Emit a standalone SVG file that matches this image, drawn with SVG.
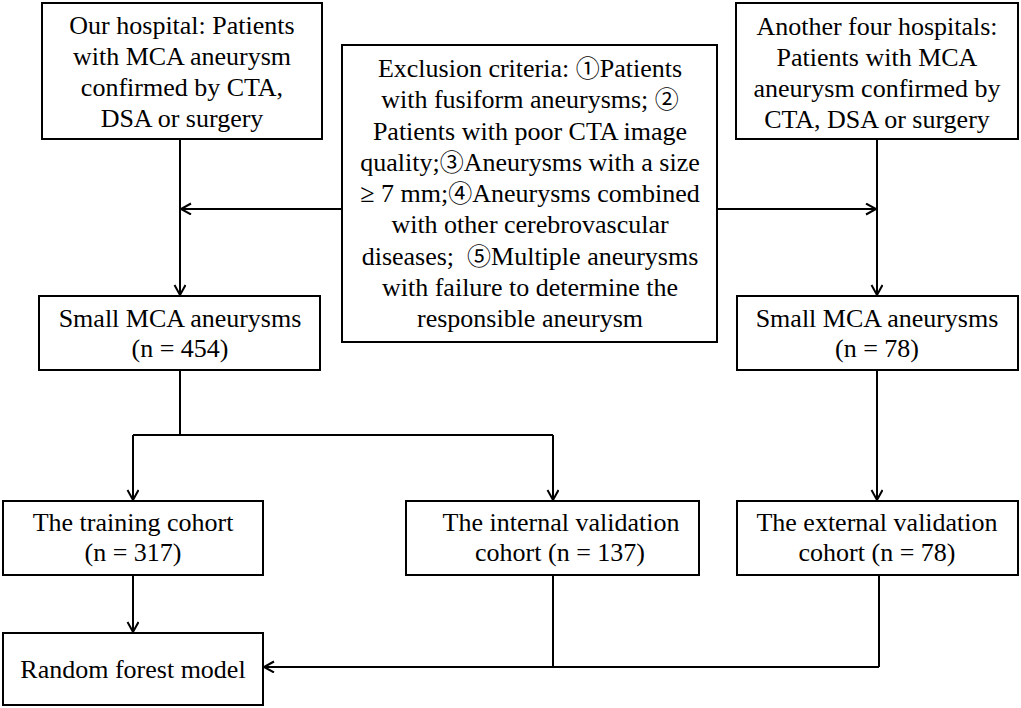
<svg xmlns="http://www.w3.org/2000/svg" width="1021" height="708" viewBox="0 0 1021 708">
<style>
.box{fill:#fff;stroke:#000;stroke-width:2}
.t{font-family:'Liberation Serif',serif;font-size:26px;fill:#000;text-anchor:middle}
.n{font-family:'Noto Sans CJK SC',sans-serif;font-size:24px}
.c{fill:none;stroke:#000;stroke-width:2}
</style>
<defs>
<marker id="arr" markerUnits="userSpaceOnUse" markerWidth="14" markerHeight="14" refX="11" refY="6" orient="auto" viewBox="0 0 14 14">
<path d="M1,0.5 L11,6 L1,11.5" fill="none" stroke="#000" stroke-width="2"/>
</marker>
</defs>
<rect width="1021" height="708" fill="#fff"/>
<g id="connectors">
<path class="c" d="M180,139 V295" marker-end="url(#arr)"/>
<path class="c" d="M342,209 H181" marker-end="url(#arr)"/>
<path class="c" d="M717,209 H876" marker-end="url(#arr)"/>
<path class="c" d="M877,139 V295" marker-end="url(#arr)"/>
<path class="c" d="M180,370 V435"/>
<path class="c" d="M133,435 H553"/>
<path class="c" d="M133,435 V500" marker-end="url(#arr)"/>
<path class="c" d="M553,435 V500" marker-end="url(#arr)"/>
<path class="c" d="M877,370 V500" marker-end="url(#arr)"/>
<path class="c" d="M133,575 V632" marker-end="url(#arr)"/>
<path class="c" d="M553,575 V667"/>
<path class="c" d="M879,575 V667"/>
<path class="c" d="M879,667 H264" marker-end="url(#arr)"/>
</g>
<g id="our-hospital">
<rect class="box" x="42" y="3" width="280" height="136"/>
<text class="t" x="182" y="34">Our hospital: Patients</text>
<text class="t" x="182" y="65">with MCA aneurysm</text>
<text class="t" x="182" y="96">confirmed by CTA,</text>
<text class="t" x="182" y="127">DSA or surgery</text>
</g>
<g id="exclusion">
<rect class="box" x="342" y="45" width="375" height="297"/>
<text class="t" x="530" y="77">Exclusion criteria: <tspan class="n">①</tspan>Patients</text>
<text class="t" x="530" y="108">with fusiform aneurysms; <tspan class="n">②</tspan></text>
<text class="t" x="530" y="139.5">Patients with poor CTA image</text>
<text class="t" x="530" y="171">quality;<tspan class="n">③</tspan>Aneurysms with a size</text>
<text class="t" x="530" y="202">≥ 7 mm;<tspan class="n">④</tspan>Aneurysms combined</text>
<text class="t" x="530" y="233">with other cerebrovascular</text>
<text class="t" x="530" y="264.5" style="white-space:pre">diseases;  <tspan class="n">⑤</tspan>Multiple aneurysms</text>
<text class="t" x="530" y="296">with failure to determine the</text>
<text class="t" x="530" y="327">responsible aneurysm</text>
</g>
<g id="other-hospitals">
<rect class="box" x="736" y="3" width="282" height="136"/>
<text class="t" x="877" y="35">Another four hospitals:</text>
<text class="t" x="877" y="66">Patients with MCA</text>
<text class="t" x="877" y="97">aneurysm confirmed by</text>
<text class="t" x="877" y="128">CTA, DSA or surgery</text>
</g>
<g id="small-left">
<rect class="box" x="39" y="296" width="281" height="74"/>
<text class="t" x="180" y="327">Small MCA aneurysms</text>
<text class="t" x="180" y="357">(n = 454)</text>
</g>
<g id="small-right">
<rect class="box" x="737" y="296" width="281" height="74"/>
<text class="t" x="877" y="327">Small MCA aneurysms</text>
<text class="t" x="877" y="357">(n = 78)</text>
</g>
<g id="training">
<rect class="box" x="3" y="501" width="260" height="74"/>
<text class="t" x="133" y="531">The training cohort</text>
<text class="t" x="133" y="561">(n = 317)</text>
</g>
<g id="internal">
<rect class="box" x="406" y="501" width="293" height="74"/>
<text class="t" x="561" y="531">The internal validation</text>
<text class="t" x="560" y="561">cohort (n = 137)</text>
</g>
<g id="external">
<rect class="box" x="737" y="501" width="281" height="74"/>
<text class="t" x="877" y="531">The external validation</text>
<text class="t" x="877" y="561">cohort (n = 78)</text>
</g>
<g id="random-forest">
<rect class="box" x="3" y="633" width="260" height="72"/>
<text class="t" x="133" y="678">Random forest model</text>
</g>
</svg>
